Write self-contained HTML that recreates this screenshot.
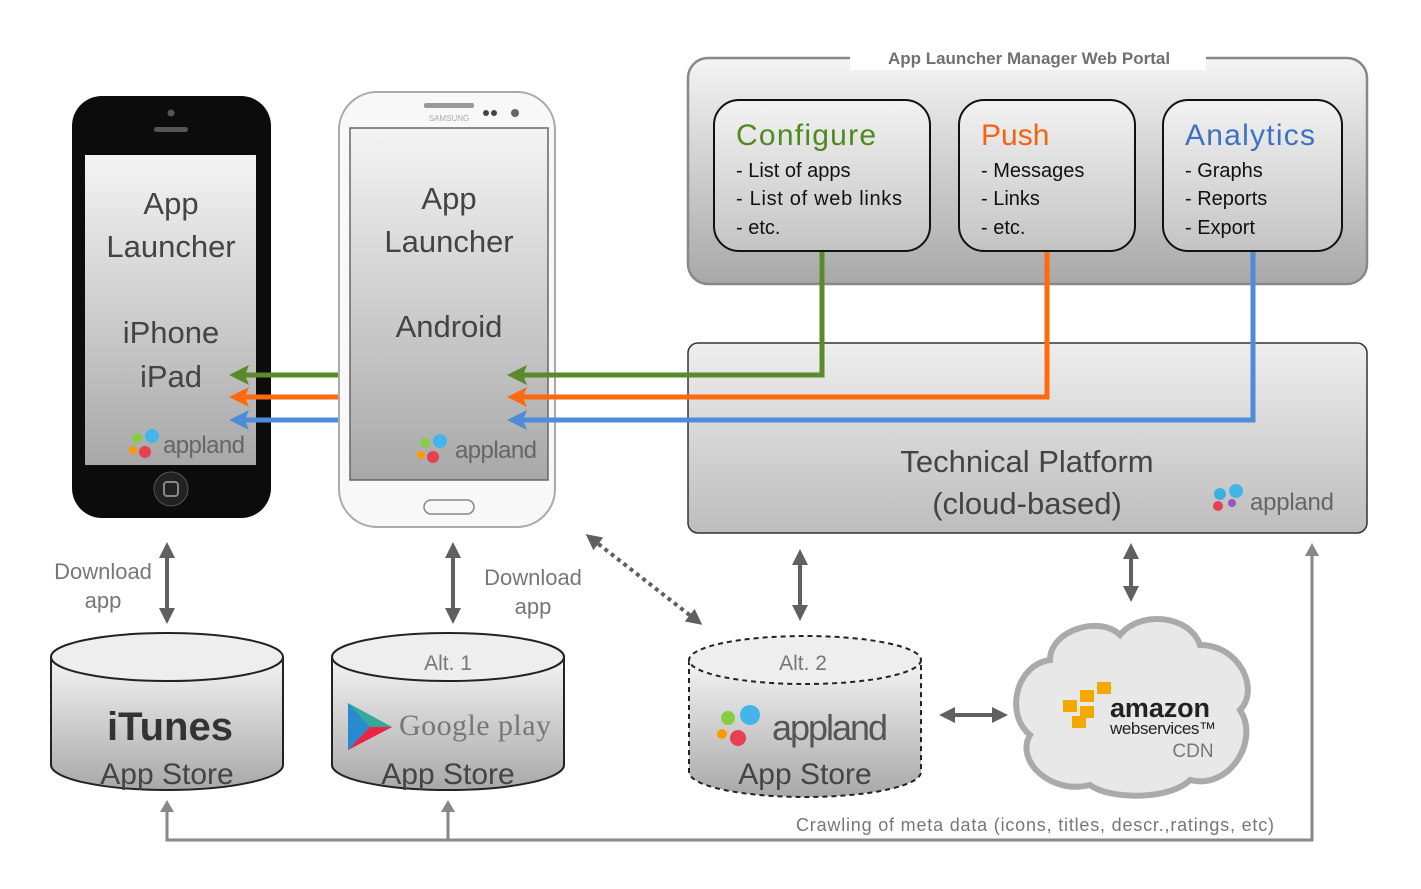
<!DOCTYPE html>
<html><head><meta charset="utf-8"><style>
body{margin:0;background:#fff}
svg{display:block;font-family:"Liberation Sans",sans-serif}
</style></head><body>
<svg width="1421" height="889" viewBox="0 0 1421 889" xmlns="http://www.w3.org/2000/svg">
<defs>
<linearGradient id="g1" x1="0" y1="0" x2="0" y2="1"><stop offset="0" stop-color="#f4f4f4"/><stop offset="1" stop-color="#a8a8a8"/></linearGradient>
<linearGradient id="g2" x1="0" y1="0" x2="0" y2="1"><stop offset="0" stop-color="#f2f2f2"/><stop offset="1" stop-color="#c4c4c4"/></linearGradient>
<linearGradient id="g3" x1="0" y1="0" x2="0" y2="1"><stop offset="0" stop-color="#eeeeee"/><stop offset="1" stop-color="#bdbdbd"/></linearGradient>
<marker id="ag" markerWidth="4" markerHeight="4" refX="3" refY="2" orient="auto" markerUnits="strokeWidth"><path d="M0,0 L4,2 L0,4 L0.8,2z" fill="#5a8a2a"/></marker>
<marker id="ao" markerWidth="4" markerHeight="4" refX="3" refY="2" orient="auto" markerUnits="strokeWidth"><path d="M0,0 L4,2 L0,4 L0.8,2z" fill="#ff6a10"/></marker>
<marker id="ab" markerWidth="4" markerHeight="4" refX="3" refY="2" orient="auto" markerUnits="strokeWidth"><path d="M0,0 L4,2 L0,4 L0.8,2z" fill="#4f8cd8"/></marker>
<marker id="gy" markerWidth="4" markerHeight="4" refX="2" refY="2" orient="auto-start-reverse" markerUnits="strokeWidth"><path d="M0,0 L4,2 L0,4z" fill="#606060"/></marker>
</defs>

<!-- portal -->
<rect x="688" y="58" width="679" height="226" rx="20" fill="url(#g1)" stroke="#888" stroke-width="2.5"/>
<rect x="850" y="46" width="356" height="24" fill="#fff"/>
<text x="1029" y="64" text-anchor="middle" font-size="17" font-weight="bold" fill="#707070">App Launcher Manager Web Portal</text>
<rect x="714" y="100" width="216" height="151" rx="25" fill="url(#g2)" stroke="#111" stroke-width="2"/>
<rect x="959" y="100" width="176" height="151" rx="25" fill="url(#g2)" stroke="#111" stroke-width="2"/>
<rect x="1163" y="100" width="179" height="151" rx="25" fill="url(#g2)" stroke="#111" stroke-width="2"/>
<g font-size="30"><text x="736" y="145" fill="#4e8a1e" textLength="140">Configure</text><text x="981" y="145" fill="#f26410">Push</text><text x="1185" y="145" fill="#3d72c0" textLength="130">Analytics</text></g>
<g font-size="20" fill="#111">
<text x="736" y="177">- List of apps</text><text x="736" y="205" textLength="166">- List of web links</text><text x="736" y="234">- etc.</text>
<text x="981" y="177">- Messages</text><text x="981" y="205">- Links</text><text x="981" y="234">- etc.</text>
<text x="1185" y="177">- Graphs</text><text x="1185" y="205">- Reports</text><text x="1185" y="234">- Export</text></g>

<!-- technical platform -->
<rect x="688" y="343" width="679" height="190" rx="10" fill="url(#g3)" stroke="#333" stroke-width="1.5"/>
<text x="1027" y="472" text-anchor="middle" font-size="31" fill="#444">Technical Platform</text>
<text x="1027" y="514" text-anchor="middle" font-size="31" fill="#444">(cloud-based)</text>
<text x="1250" y="510" font-size="24" fill="#666" textLength="84">appland</text>
<circle cx="1220" cy="494" r="6" fill="#3ab0e0"/><circle cx="1236" cy="491" r="7" fill="#44b5e8"/><circle cx="1218" cy="506" r="5" fill="#e84050"/><circle cx="1232" cy="503" r="4" fill="#a050c0"/>

<!-- iPhone -->
<rect x="72" y="96" width="199" height="422" rx="30" fill="#0c0c0c"/>
<circle cx="171" cy="113" r="3.5" fill="#555"/><rect x="154" y="127" width="34" height="5" rx="2.5" fill="#555"/>
<rect x="85" y="155" width="171" height="310" fill="url(#g1)"/>
<circle cx="171" cy="489" r="17" fill="#222" stroke="#555"/><rect x="164" y="482" width="14" height="14" rx="3" fill="none" stroke="#888" stroke-width="2"/>
<g font-size="31" fill="#444" text-anchor="middle"><text x="171" y="214">App</text><text x="171" y="257">Launcher</text><text x="171" y="343">iPhone</text><text x="171" y="387">iPad</text></g>
<text x="163" y="453" font-size="24" fill="#666" textLength="82">appland</text>
<circle cx="137" cy="438" r="5" fill="#8c4"/><circle cx="152" cy="436" r="7" fill="#44b5e8"/><circle cx="133" cy="450" r="4" fill="#f90"/><circle cx="145" cy="452" r="6" fill="#e84050"/>

<!-- Android -->
<rect x="339" y="92" width="216" height="435" rx="38" fill="#f8f8f8" stroke="#aaa" stroke-width="2"/>
<rect x="424" y="103" width="50" height="5" rx="2" fill="#999"/>
<text x="449" y="121" text-anchor="middle" font-size="8" fill="#aaa">SAMSUNG</text>
<circle cx="486" cy="113" r="3" fill="#444"/><circle cx="494" cy="113" r="3" fill="#444"/><circle cx="515" cy="113" r="4" fill="#666"/>
<rect x="350" y="128" width="198" height="352" fill="url(#g1)" stroke="#666" stroke-width="1.5"/>
<rect x="424" y="500" width="50" height="14" rx="7" fill="none" stroke="#888" stroke-width="1.5"/>
<g font-size="31" fill="#444" text-anchor="middle"><text x="449" y="209">App</text><text x="449" y="252">Launcher</text><text x="449" y="337">Android</text></g>
<text x="455" y="458" font-size="24" fill="#666" textLength="82">appland</text>
<circle cx="425" cy="443" r="5" fill="#8c4"/><circle cx="440" cy="441" r="7" fill="#44b5e8"/><circle cx="421" cy="455" r="4" fill="#f90"/><circle cx="433" cy="457" r="6" fill="#e84050"/>

<!-- colored arrows -->
<g fill="none" stroke-width="5">
<path d="M822 252 V375 H512" stroke="#5a8a2a" marker-end="url(#ag)"/>
<path d="M1047 252 V397 H512" stroke="#ff6a10" marker-end="url(#ao)"/>
<path d="M1253 252 V420 H512" stroke="#4f8cd8" marker-end="url(#ab)"/>
<path d="M338 375 H234" stroke="#5a8a2a" marker-end="url(#ag)"/>
<path d="M338 397 H234" stroke="#ff6a10" marker-end="url(#ao)"/>
<path d="M338 420 H234" stroke="#4f8cd8" marker-end="url(#ab)"/>
</g>

<!-- gray double arrows -->
<g stroke="#606060" stroke-width="4" fill="none">
<path d="M167 550 V616" marker-start="url(#gy)" marker-end="url(#gy)"/>
<path d="M453 550 V616" marker-start="url(#gy)" marker-end="url(#gy)"/>
<path d="M800 557 V613" marker-start="url(#gy)" marker-end="url(#gy)"/>
<path d="M1131 551 V594" marker-start="url(#gy)" marker-end="url(#gy)"/>
<path d="M947 715 H1000" marker-start="url(#gy)" marker-end="url(#gy)"/>
<path d="M592 539 L696 620" stroke-dasharray="4 4" marker-start="url(#gy)" marker-end="url(#gy)"/>
</g>
<g font-size="22" fill="#777" text-anchor="middle"><text x="103" y="579">Download</text><text x="103" y="608">app</text><text x="533" y="585">Download</text><text x="533" y="614">app</text></g>

<!-- cylinders -->
<g stroke="#222" stroke-width="2">
<path d="M51 657 V765 A116 25 0 0 0 283 765 V657" fill="url(#g1)"/>
<ellipse cx="167" cy="657" rx="116" ry="24" fill="#eee"/>
<path d="M332 657 V765 A116 25 0 0 0 564 765 V657" fill="url(#g1)"/>
<ellipse cx="448" cy="657" rx="116" ry="24" fill="#eee"/>
<g stroke-dasharray="5 4"><path d="M689 660 V772 A116 25 0 0 0 921 772 V660" fill="url(#g1)"/>
<ellipse cx="805" cy="660" rx="116" ry="24" fill="#eee"/></g>
</g>
<text x="170" y="740" text-anchor="middle" font-size="40" font-weight="bold" fill="#333">iTunes</text>
<g font-size="30" fill="#444" text-anchor="middle"><text x="167" y="784">App Store</text><text x="448" y="784">App Store</text><text x="805" y="784">App Store</text></g>
<text x="448" y="670" text-anchor="middle" font-size="21" fill="#777">Alt. 1</text>
<text x="803" y="670" text-anchor="middle" font-size="21" fill="#777">Alt. 2</text>
<path d="M348 703 L348 750 L392 727z" fill="#3a9"/><path d="M348 703 L370 727 L348 750z" fill="#2a8ad0"/><path d="M370 727 L392 727 L348 750z" fill="#e24"/>
<text x="399" y="735" font-family="Liberation Serif,serif" font-size="30" fill="#777" textLength="152">Google play</text>
<text x="772" y="740" font-size="36" fill="#555" textLength="116">appland</text>
<circle cx="728" cy="718" r="7" fill="#8c4"/><circle cx="750" cy="715" r="10" fill="#44b5e8"/><circle cx="722" cy="734" r="5" fill="#f90"/><circle cx="738" cy="738" r="8" fill="#e84050"/>

<!-- cloud -->
<path d="M1050 660 C1050 630 1100 615 1120 635 C1140 610 1190 615 1200 645 C1240 645 1260 690 1240 710 C1260 740 1230 790 1190 780 C1170 800 1110 800 1090 785 C1050 795 1015 760 1030 735 C1005 715 1015 665 1050 660z" fill="#e8e8e8" stroke="#aaa" stroke-width="6"/>
<g fill="#f5a800"><rect x="1063" y="700" width="14" height="12"/><rect x="1080" y="690" width="14" height="12"/><rect x="1080" y="706" width="14" height="12"/><rect x="1097" y="682" width="14" height="12"/><rect x="1072" y="716" width="14" height="12"/></g>
<text x="1110" y="717" font-size="27" font-weight="bold" fill="#222" textLength="100">amazon</text>
<text x="1110" y="734" font-size="17" fill="#222" textLength="106">webservices™</text>
<text x="1193" y="757" text-anchor="middle" font-size="19" fill="#777">CDN</text>

<!-- crawling -->
<path d="M167 808 V840 H1312 V552" fill="none" stroke="#888" stroke-width="3"/>
<path d="M448 808 V840" stroke="#888" stroke-width="3"/>
<path d="M160 812 L167 800 L174 812z M441 812 L448 800 L455 812z M1305 556 L1312 543 L1319 556z" fill="#888"/>
<text x="1035" y="831" text-anchor="middle" font-size="18" fill="#777" textLength="478">Crawling of meta data (icons, titles, descr.,ratings, etc)</text>
</svg>
</body></html>
